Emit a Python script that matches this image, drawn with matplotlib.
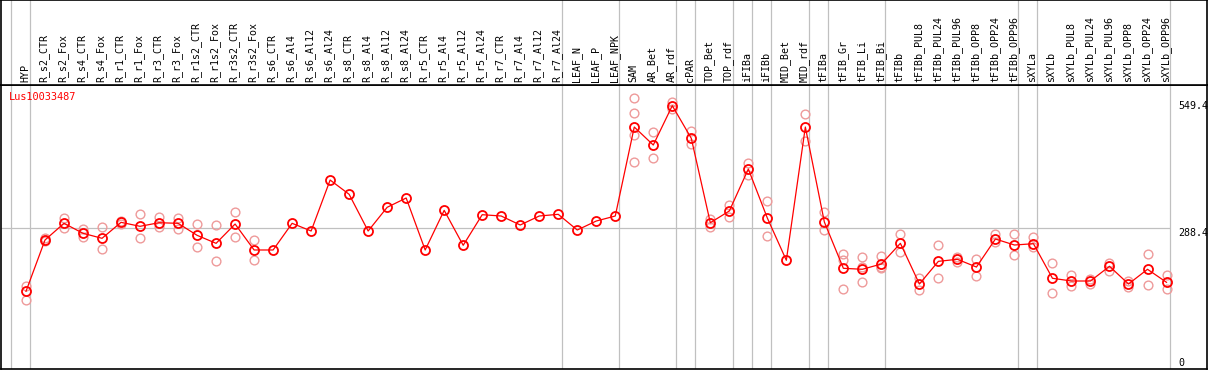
import matplotlib
matplotlib.use("Agg")
import matplotlib.pyplot as plt
import matplotlib.transforms as mtransforms

gene = "Lus10033487"

samples = ["HYP", "R_s2_CTR", "R_s2_Fox", "R_s4_CTR", "R_s4_Fox", "R_r1_CTR", "R_r1_Fox",
           "R_r3_CTR", "R_r3_Fox", "R_r1s2_CTR", "R_r1s2_Fox", "R_r3s2_CTR", "R_r3s2_Fox",
           "R_s6_CTR", "R_s6_Al4", "R_s6_Al12", "R_s6_Al24", "R_s8_CTR", "R_s8_Al4",
           "R_s8_Al12", "R_s8_Al24", "R_r5_CTR", "R_r5_Al4", "R_r5_Al12", "R_r5_Al24",
           "R_r7_CTR", "R_r7_Al4", "R_r7_Al12", "R_r7_Al24", "LEAF_N", "LEAF_P", "LEAF_NPK",
           "SAM", "AR_Bet", "AR_rdf", "cPAR", "TOP_Bet", "TOP_rdf", "iFIBa", "iFIBb",
           "MID_Bet", "MID_rdf", "tFIBa", "tFIB_Gr", "tFIB_Li", "tFIB_Bi", "tFIBb",
           "tFIBb_PUL8", "tFIBb_PUL24", "tFIBb_PUL96", "tFIBb_OPP8", "tFIBb_OPP24",
           "tFIBb_OPP96", "sXYLa", "sXYLb", "sXYLb_PUL8", "sXYLb_PUL24", "sXYLb_PUL96",
           "sXYLb_OPP8", "sXYLb_OPP24", "sXYLb_OPP96"]

means = [153.2, 262.7, 298.3, 277.0, 266.3, 300.4, 291.9, 299.6, 298.3, 272.7, 255.6,
         296.8, 241.4, 241.4, 298.3, 281.9, 390.7, 360.2, 281.9, 332.5, 352.3, 241.4,
         326.0, 251.4, 316.7, 313.9, 294.7, 313.9, 317.5, 284.0, 303.2, 313.9,
         503.8, 465.4, 549.4, 479.7, 299.6, 324.6, 414.2, 309.6, 219.4, 503.8,
         301.1, 202.3, 200.2, 211.5, 255.6, 168.8, 217.2, 221.5, 205.0, 264.8,
         252.0, 254.8, 181.0, 175.2, 175.2, 206.6, 168.8, 200.2, 172.4]

# replicate values (empty = hidden under the mean)
reps = [[164.5, 134.0], [267.0, 260.0], [310.0, 288.3], [285.5, 269.7], [289.8, 242.8],
        [303.9, 297.0], [317.5, 266.3], [312.4, 291.1], [309.0, 286.2], [296.2, 247.1],
        [294.0, 217.2], [322.4, 268.5], [263.3, 219.4], [], [], [], [], [], [], [], [],
        [], [], [], [], [], [], [], [], [], [], [],
        [565.7, 533.0, 486.8, 428.5], [492.5, 437.0], [557.2, 542.9], [494.7, 467.6],
        [306.9, 291.1], [337.4, 311.1], [427.0, 401.4], [345.3, 271.2], [],
        [531.6, 474.0], [322.4, 284.0], [232.8, 219.4, 157.5], [225.8, 205.7, 173.0],
        [228.6, 205.7, 202.3], [275.5, 236.4], [182.2, 156.0], [252.0, 181.0],
        [227.0, 215.7], [222.2, 186.5], [274.9, 259.1], [274.9, 230.7], [269.7, 248.4],
        [213.6, 149.6], [188.0, 163.9], [180.1, 168.8], [214.3, 197.2], [175.2, 163.0],
        [232.8, 166.0], [187.4, 158.8]]

# group separators (after these sample indices)
group_ends = [-1, 0, 28, 31, 34, 35, 37, 38, 39, 41, 42, 45, 52, 53, 60]
y_ticks = [549.4, 288.4, 0]

W, H = 1209, 370
fig = plt.figure(figsize=(W / 100, H / 100), dpi=100)
ax = fig.add_axes([1 / W, 1 / H, 1206 / W, 284 / H])
axl = fig.add_axes([1 / W, 285 / H, 1206 / W, 85 / H], sharex=ax)

x = list(range(len(samples)))
ax.set_xlim(-1.315, 62.13)
ax.set_ylim(-12.6, 593.5)
axl.set_ylim(0, 1)

for a in (ax, axl):
    a.set_xticks([])
    a.set_yticks([])
    for s in a.spines.values():
        s.set_color("black")
        s.set_linewidth(1.2)
    for g in group_ends:
        a.axvline(g + 0.2, color="#c0c0c0", lw=0.9, zorder=0)

ax.hlines(288.4, -1.315, 60.2, color="#c0c0c0", lw=0.9, zorder=0)

mono = "DejaVu Sans Mono"
for i, name in enumerate(samples):
    axl.text(i - 0.05, 0.035, name, rotation=90, ha="center", va="bottom",
             fontsize=7.2, family=mono)

for i, r in enumerate(reps):
    if r:
        ax.plot([i] * len(r), r, "o", ms=6.3, mfc="none", mec="#ee9a9a", mew=1.0, zorder=2)

ax.plot(x, means, "-", color="red", lw=0.9, zorder=3)
ax.plot(x, means, "o", ms=6.5, mfc="none", mec="red", mew=1.3, zorder=4)

ax.text(0.0068, 0.975, gene, transform=ax.transAxes, color="red", fontsize=7.4,
        family=mono, ha="left", va="top")

trans = mtransforms.blended_transform_factory(ax.transAxes, ax.transData)
for v, va in zip(y_ticks, ["center", "top", "center"]):
    ax.text(1177.5 / 1206, v, "%g" % v, transform=trans, fontsize=7.2, family=mono, va=va)

fig.savefig("out.png", dpi=100)
